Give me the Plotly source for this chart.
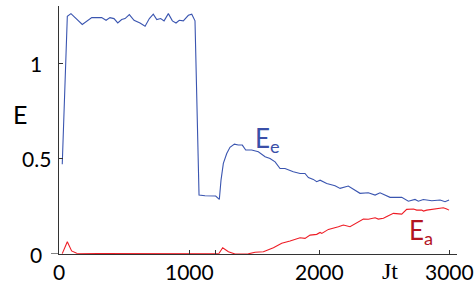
import plotly.graph_objects as go

# E_e (blue)
t_e = [25, 64, 92, 179, 252, 328, 362, 392, 423, 452, 482, 508, 541, 577, 623, 662, 695, 725,
       752, 782, 808, 841, 872, 900, 925, 956, 995, 1021, 1046, 1077, 1123, 1187, 1205, 1233,
       1246, 1264, 1290, 1315, 1349, 1379, 1410, 1436, 1482, 1533, 1585, 1623, 1662, 1700,
       1738, 1802, 1854, 1892, 1918, 1956, 1982, 2008, 2059, 2123, 2162, 2225, 2251, 2315,
       2379, 2431, 2469, 2546, 2636, 2687, 2738, 2764, 2802, 2867, 2931, 2969, 3000]
E_e = [0.47, 1.246, 1.260, 1.203, 1.239, 1.239, 1.225, 1.239, 1.234, 1.211, 1.229, 1.234, 1.255,
       1.225, 1.211, 1.194, 1.234, 1.257, 1.229, 1.234, 1.222, 1.260, 1.222, 1.211, 1.225, 1.222,
       1.251, 1.257, 1.222, 0.309, 0.305, 0.307, 0.304, 0.286, 0.387, 0.475, 0.527, 0.559, 0.576,
       0.571, 0.571, 0.545, 0.545, 0.536, 0.510, 0.501, 0.483, 0.448, 0.448, 0.431, 0.422, 0.422,
       0.401, 0.391, 0.379, 0.387, 0.370, 0.358, 0.344, 0.356, 0.344, 0.318, 0.321, 0.309, 0.321,
       0.297, 0.297, 0.277, 0.286, 0.277, 0.286, 0.279, 0.283, 0.274, 0.283]

# E_a (red)
t_a = [25, 64, 97, 136, 300, 500, 700, 900, 1100, 1231, 1259, 1303, 1354, 1456, 1508, 1572, 1649,
       1713, 1777, 1854, 1892, 1931, 1982, 2008, 2021, 2072, 2149, 2187, 2238, 2290, 2341, 2379,
       2431, 2456, 2495, 2533, 2572, 2636, 2674, 2726, 2751, 2790, 2803, 2828, 2867, 2905, 2956,
       2982, 3000]
E_a = [0.002, 0.064, 0.016, 0.004, 0.003, 0.003, 0.004, 0.003, 0.002, 0.004, 0.033, 0.012, 0.0,
       0.001, 0.009, 0.012, 0.033, 0.056, 0.068, 0.085, 0.082, 0.099, 0.103, 0.113, 0.108, 0.129,
       0.143, 0.152, 0.143, 0.161, 0.183, 0.182, 0.190, 0.183, 0.187, 0.201, 0.213, 0.209, 0.234,
       0.236, 0.230, 0.230, 0.225, 0.230, 0.234, 0.236, 0.242, 0.236, 0.230]

x_tickvals = [0, 1000, 1200, 2000, 3000]
x_labelvals = [0, 1000, 2000, 3000]
x_ticktext = ["0", "1000", "2000", "3000"]
y_tickvals = [0, 0.5, 1]
y_ticktext = ["0", "0.5", "1"]

BLUE = "#3a55b0"
RED = "#ee1c25"
AXIS = "#333333"
FONT = "Lato"

fig = go.Figure()
fig.add_trace(go.Scatter(x=t_e, y=E_e, mode="lines", line=dict(color=BLUE, width=1.1)))
fig.add_trace(go.Scatter(x=t_a, y=E_a, mode="lines", line=dict(color=RED, width=1.1)))

fig.update_layout(
    width=474, height=284,
    margin=dict(l=59, r=17, t=6, b=30, autoexpand=False),
    paper_bgcolor="white", plot_bgcolor="white",
    showlegend=False,
    font=dict(family=FONT, size=20, color="black"),
    xaxis=dict(range=[0, 3061], showgrid=False, zeroline=False, showline=True, automargin=False,
               linecolor=AXIS, linewidth=1.2, ticks="inside", ticklen=4, tickcolor=AXIS,
               tickvals=x_tickvals, showticklabels=False),
    yaxis=dict(range=[0, 1.3], showgrid=False, zeroline=False, showline=True, automargin=False,
               linecolor=AXIS, linewidth=1.2, ticks="inside", ticklen=4, tickcolor=AXIS,
               tickvals=y_tickvals, showticklabels=False),
)

# small extension of x-axis to the left
fig.add_shape(type="line", xref="paper", yref="y", x0=-8/398, x1=0, y0=0, y1=0,
              line=dict(color=AXIS, width=1.2))

# x tick labels
for v, s in zip(x_labelvals, x_ticktext):
    fig.add_annotation(xref="x", yref="paper", x=v, y=(254-271)/248, text=s, showarrow=False,
                       xanchor="center", yanchor="middle", font=dict(size=21, family=FONT))

# y tick labels centred
for v, s in zip(y_tickvals, y_ticktext):
    fig.add_annotation(xref="paper", yref="y", x=(36-59)/398, y=v, text=s, showarrow=False,
                       xanchor="center", yanchor="middle", font=dict(size=21, family=FONT))

fig.add_annotation(xref="paper", yref="paper", x=(20-59)/398, y=(254-114)/248, text="E",
                   showarrow=False, xanchor="center", yanchor="middle",
                   font=dict(size=25, family=FONT))
fig.add_annotation(xref="paper", yref="paper", x=(390-59)/398, y=(254-271)/248, text="Jt",
                   showarrow=False, xanchor="center", yanchor="middle",
                   font=dict(size=24, family="Liberation Serif"))
fig.add_annotation(xref="paper", yref="paper", x=(253-59)/398, y=(254-139)/248,
                   text="E<sub>e</sub>", showarrow=False, xanchor="left", yanchor="middle",
                   font=dict(size=26, family=FONT, color="#3a4fa8"))
fig.add_annotation(xref="paper", yref="paper", x=(407-59)/398, y=(254-231)/248,
                   text="E<sub>a</sub>", showarrow=False, xanchor="left", yanchor="middle",
                   font=dict(size=26, family=FONT, color="#b3141f"))

fig.write_html("out.html", config={"displayModeBar": False},
               post_script="document.body.style.margin='0';document.body.style.overflow='hidden';")
